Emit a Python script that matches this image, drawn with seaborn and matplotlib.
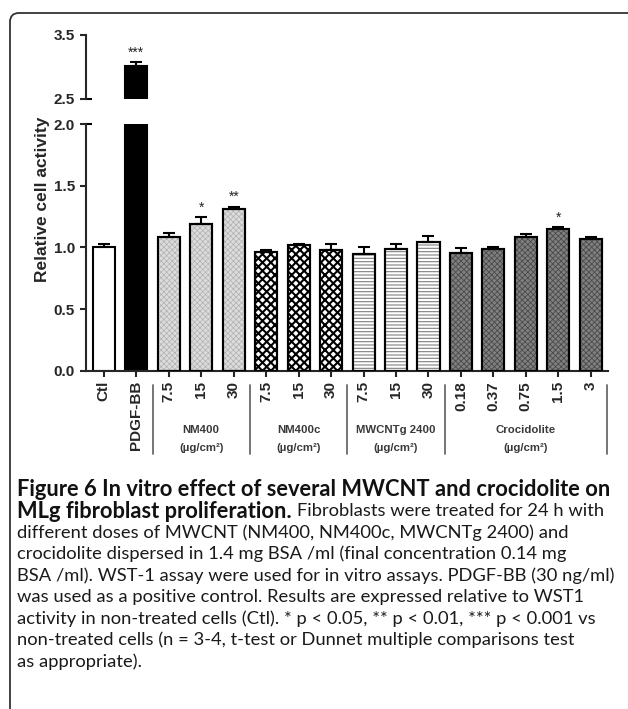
import numpy as np
import pandas as pd
import matplotlib
matplotlib.use("Agg")
import matplotlib.pyplot as plt
import seaborn as sns
from matplotlib.patches import FancyBboxPatch
from matplotlib.transforms import blended_transform_factory as blend

# ---------------- data ----------------
groups = ["Ctl", "PDGF-BB", "NM400", "NM400", "NM400", "NM400c", "NM400c", "NM400c",
          "MWCNTg 2400", "MWCNTg 2400", "MWCNTg 2400",
          "Crocidolite", "Crocidolite", "Crocidolite", "Crocidolite", "Crocidolite"]
doses = ["Ctl", "PDGF-BB", "7.5", "15", "30", "7.5", "15", "30", "7.5", "15", "30",
         "0.18", "0.37", "0.75", "1.5", "3"]
values = [1.00, 3.02, 1.085, 1.19, 1.31, 0.96, 1.02, 0.975, 0.945, 0.99, 1.04,
          0.955, 0.99, 1.08, 1.145, 1.07]
errors = [0.03, 0.06, 0.035, 0.055, 0.02, 0.02, 0.01, 0.05, 0.06, 0.035, 0.05,
          0.04, 0.015, 0.025, 0.02, 0.015]
signif = ["", "***", "", "*", "**", "", "", "", "", "", "", "", "", "", "*", ""]
group_titles = ["NM400", "NM400c", "MWCNTg 2400", "Crocidolite"]
unit_label = "(µg/cm²)"
y_ticks_low = [0.0, 0.5, 1.0, 1.5, 2.0]
y_ticks_high = [2.5, 3.5]
caption_bold = ["Figure 6 In vitro effect of several MWCNT and crocidolite on",
                "MLg fibroblast proliferation."]
caption_rest = ["Fibroblasts were treated for 24 h with",
                "different doses of MWCNT (NM400, NM400c, MWCNTg 2400) and",
                "crocidolite dispersed in 1.4 mg BSA /ml (final concentration 0.14 mg",
                "BSA /ml). WST-1 assay were used for in vitro assays. PDGF-BB (30 ng/ml)",
                "was used as a positive control. Results are expressed relative to WST1",
                "activity in non-treated cells (Ctl). * p < 0.05, ** p < 0.01, *** p < 0.001 vs",
                "non-treated cells (n = 3-4, t-test or Dunnet multiple comparisons test",
                "as appropriate)."]

ids = [f"{g} {d}" for g, d in zip(groups, doses)]
df = pd.DataFrame({"cond": ids, "value": values, "group": groups})

# ---------------- styles ----------------
face = {"Ctl": "white", "PDGF-BB": "black", "NM400": "#dcdcdc", "NM400c": "white",
        "MWCNTg 2400": "white", "Crocidolite": "#808080"}
hatch = {"NM400": ("xxxxxx", "#b0b0b0", 0.5), "NM400c": ("xxxx", "black", 1.5),
         "MWCNTg 2400": ("-----", "#808080", 0.8), "Crocidolite": ("xxxxxx", "#4a4a4a", 0.6)}
palette = {i: face[g] for i, g in zip(ids, groups)}

sns.set_style("ticks")
plt.rcParams["font.family"] = ["Liberation Sans", "DejaVu Sans"]

W, H = 628, 709
fig = plt.figure(figsize=(W / 100, H / 100), dpi=100)

x0, x1 = 86, 608
ax_b = fig.add_axes([x0 / W, (H - 370.7) / H, (x1 - x0) / W, (370.7 - 124) / H])
ax_t = fig.add_axes([x0 / W, (H - 99) / H, (x1 - x0) / W, (99 - 35) / H])

bw = 0.68
xpos = np.arange(len(ids))
for ax in (ax_b, ax_t):
    sns.barplot(data=df, x="cond", y="value", hue="cond", palette=palette, order=ids,
                hue_order=ids, width=bw, errorbar=None, legend=False, saturation=1,
                edgecolor="black", linewidth=1.5, ax=ax, zorder=1)
    for g, (h, hc, hlw) in hatch.items():
        idx = [i for i, gg in enumerate(groups) if gg == g]
        with plt.rc_context({"hatch.linewidth": hlw}):
            ax.bar(xpos[idx], np.array(values)[idx], width=bw, facecolor="none",
                   hatch=h, edgecolor=hc, linewidth=0, zorder=2)
        ax.bar(xpos[idx], np.array(values)[idx], width=bw, fill=False,
               edgecolor="black", linewidth=1.5, zorder=3)
    ax.errorbar(xpos, values, yerr=[np.zeros(len(values)), errors], fmt="none",
                ecolor="black", elinewidth=1.5, capsize=4.5, capthick=1.5, zorder=4)
    lo, hi = (0, 2.0) if ax is ax_b else (2.5, 3.5)
    for i, s in enumerate(signif):
        top = values[i] + errors[i]
        if s and lo <= top <= hi:
            ax.annotate(s, (xpos[i], top), xytext=(0, 4),
                        textcoords="offset points", ha="center", va="baseline",
                        fontsize=10, color="#222222", annotation_clip=False)
    ax.set_xlim(-0.55, len(ids) - 0.47)
    ax.set_xlabel("")
    ax.set_ylabel("")
    for sp in ("top", "right"):
        ax.spines[sp].set_visible(False)
    ax.spines["left"].set_linewidth(1.5)
    ax.spines["bottom"].set_linewidth(1.5)
    ax.tick_params(axis="both", width=1.5, length=4.5, labelsize=11)

ax_b.set_ylim(0, 2.0)
ax_b.set_yticks(y_ticks_low)
ax_b.set_yticklabels([f"{v:.1f}" for v in y_ticks_low], fontweight="bold")
ax_b.set_xticks(xpos)
ax_b.set_xticklabels(doses, rotation=90, fontweight="bold", fontsize=11)
ax_b.tick_params(axis="x", pad=3)

ax_t.set_ylim(2.5, 3.5)
ax_t.set_yticks(y_ticks_high)
ax_t.set_yticklabels([f"{v:.1f}" for v in y_ticks_high], fontweight="bold")
ax_t.spines["bottom"].set_visible(False)
ax_t.set_xticks([])

# break marks extending right of the spine
for ax, yv in ((ax_t, 2.5), (ax_b, 2.0)):
    ax.plot([0, 0.011], [yv, yv], transform=blend(ax.transAxes, ax.transData),
            color="black", lw=1.5, clip_on=False, solid_capstyle="butt")

# group separators and labels
tr = blend(ax_b.transData, ax_b.transAxes)
bounds = [1.5, 4.5, 7.5, 10.5, len(ids) - 0.5]
for b in bounds:
    ax_b.plot([b, b], [-0.058, -0.338], transform=tr, color="#6a6a6a", lw=1.3,
              clip_on=False)
for gi, g in enumerate(group_titles):
    idx = [i for i, gg in enumerate(groups) if gg == g]
    cx = np.mean(idx)
    ax_b.text(cx, -0.241, g, transform=tr, ha="center", va="center", fontsize=8.2,
              fontweight="bold", color="#3a3a3a")
    ax_b.text(cx, -0.314, unit_label, transform=tr, ha="center", va="center",
              fontsize=8.2, fontweight="bold", color="#3a3a3a")

fig.text(43 / W, 1 - 199 / H, "Relative cell activity", rotation=90, ha="center",
         va="center", fontsize=12.5, fontweight="bold")

# frame
fig.add_artist(FancyBboxPatch((0.10, -1.0), 7.0, (H - 13) / 100 + 1.0,
                              boxstyle="round,pad=0,rounding_size=0.09",
                              transform=fig.dpi_scale_trans, fill=False,
                              edgecolor="#333333", linewidth=1.3))

# caption
cap_font = ["Lato", "DejaVu Sans"]
renderer = fig.canvas.get_renderer()
xl = 17
line_y = [489, 511, 532.5, 554, 576, 597, 619, 640, 662]


def width_px(txt, size, weight):
    t = fig.text(0, 0, txt, fontsize=size, fontweight=weight, family=cap_font)
    w = t.get_window_extent(renderer).width
    t.remove()
    return w


bsize = 12 * 590 / width_px(caption_bold[0], 12, "bold")
rsize = 12 * 595 / width_px(caption_rest[3], 12, "normal")

t = fig.text(xl / W, 1 - line_y[0] / H, caption_bold[0], fontsize=bsize,
             fontweight="bold", family=cap_font, va="center", color="#111111")
t2 = fig.text(xl / W, 1 - line_y[1] / H, caption_bold[1], fontsize=bsize,
              fontweight="bold", family=cap_font, va="center", color="#111111")
bend = t2.get_window_extent(renderer).x1
fig.text((bend + 5) / W, 1 - line_y[1] / H, caption_rest[0], fontsize=rsize,
         family=cap_font, va="center", color="#1a1a1a")
for k, line in enumerate(caption_rest[1:]):
    fig.text(xl / W, 1 - line_y[k + 2] / H, line, fontsize=rsize, family=cap_font,
             va="center", color="#1a1a1a")

fig.savefig("out.png", dpi=100, facecolor="white")
